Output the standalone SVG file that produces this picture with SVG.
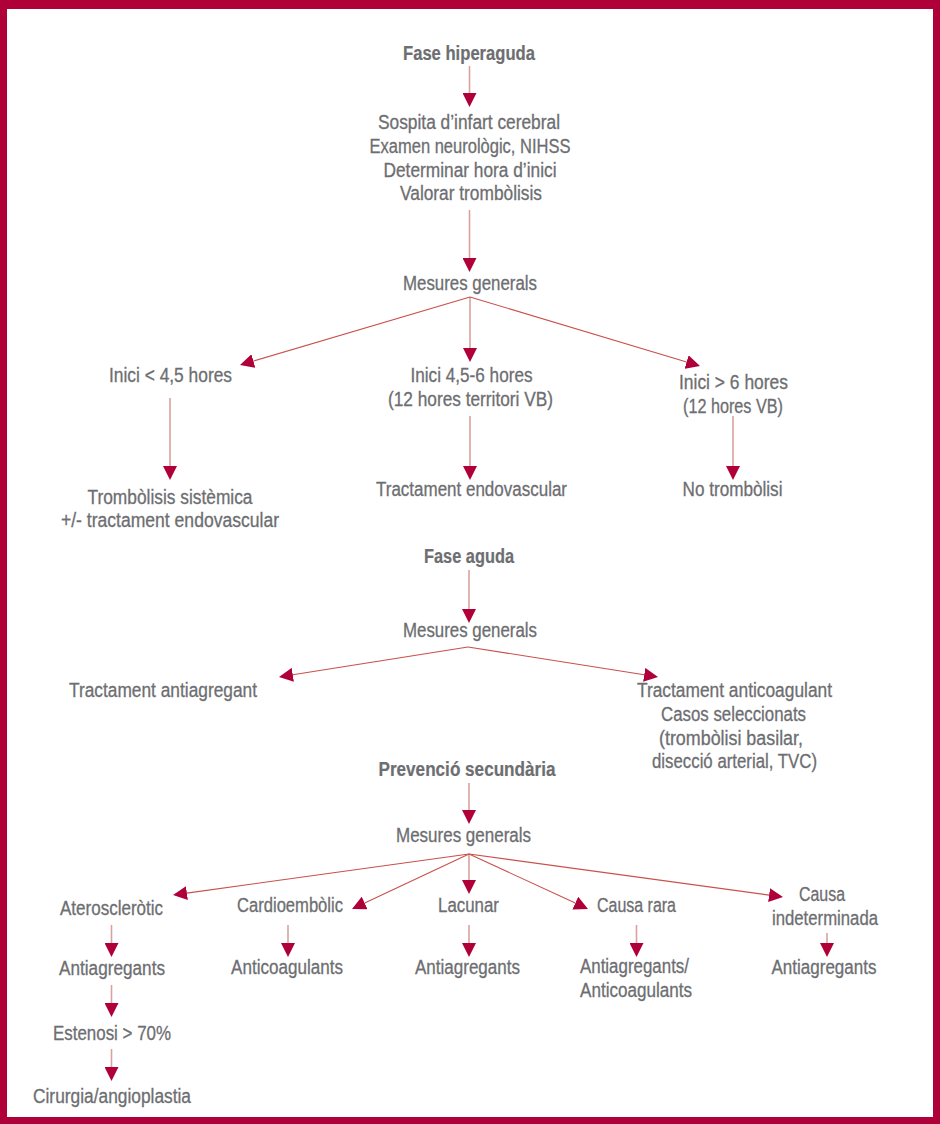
<svg xmlns="http://www.w3.org/2000/svg" width="940" height="1124" viewBox="0 0 940 1124">
<style>
text{font-family:"Liberation Sans Narrow","Liberation Sans",Arial,sans-serif;font-size:20px;fill:#6d6e71;stroke:#6d6e71;stroke-width:0.3;text-anchor:middle}
.b{font-weight:bold;stroke-width:0.2}
.s{text-anchor:start}
.v{stroke:#d9a29e;stroke-width:1.6;fill:none}
.d{stroke:#c9504c;stroke-width:1.1;fill:none}
</style>
<defs>
<marker id="ah" viewBox="0 0 14 14" refX="0" refY="7" markerWidth="14" markerHeight="14" markerUnits="userSpaceOnUse" orient="auto">
<path d="M0,0 L14,7 L0,14 Z" fill="#af003a"/>
</marker>
</defs>
<rect x="0" y="0" width="940" height="1124" fill="#af003a"/>
<rect x="7" y="9" width="926" height="1108" fill="#ffffff"/>

<g id="connectors">
<line class="v" x1="469.5" y1="66" x2="469.5" y2="93" marker-end="url(#ah)"/>
<line class="v" x1="469.5" y1="210" x2="469.5" y2="258" marker-end="url(#ah)"/>
<line class="v" x1="470" y1="297" x2="470" y2="348" marker-end="url(#ah)"/>
<line class="d" x1="470" y1="297" x2="253.4" y2="361" marker-end="url(#ah)"/>
<line class="d" x1="470" y1="297" x2="686.6" y2="362" marker-end="url(#ah)"/>
<line class="v" x1="170" y1="398" x2="170" y2="466" marker-end="url(#ah)"/>
<line class="v" x1="470" y1="416" x2="470" y2="466" marker-end="url(#ah)"/>
<line class="v" x1="733" y1="416" x2="733" y2="466" marker-end="url(#ah)"/>
<line class="v" x1="469" y1="570" x2="469" y2="609" marker-end="url(#ah)"/>
<line class="d" x1="468" y1="647" x2="292.8" y2="674.8" marker-end="url(#ah)"/>
<line class="d" x1="468" y1="647" x2="644.2" y2="674.8" marker-end="url(#ah)"/>
<line class="v" x1="469" y1="783" x2="469" y2="810" marker-end="url(#ah)"/>
<line class="v" x1="469" y1="854" x2="469" y2="880" marker-end="url(#ah)"/>
<line class="d" x1="469" y1="854" x2="186.9" y2="893.1" marker-end="url(#ah)"/>
<line class="d" x1="469" y1="854" x2="364.7" y2="903" marker-end="url(#ah)"/>
<line class="d" x1="469" y1="854" x2="575.3" y2="903.1" marker-end="url(#ah)"/>
<line class="d" x1="469" y1="854" x2="769.1" y2="895.1" marker-end="url(#ah)"/>
<line class="v" x1="111.5" y1="925" x2="111.5" y2="943" marker-end="url(#ah)"/>
<line class="v" x1="288" y1="925" x2="288" y2="943" marker-end="url(#ah)"/>
<line class="v" x1="469" y1="925" x2="469" y2="943" marker-end="url(#ah)"/>
<line class="v" x1="636.5" y1="925" x2="636.5" y2="943" marker-end="url(#ah)"/>
<line class="v" x1="827" y1="933" x2="827" y2="943" marker-end="url(#ah)"/>
<line class="v" x1="111.5" y1="985" x2="111.5" y2="1003" marker-end="url(#ah)"/>
<line class="v" x1="111.5" y1="1049" x2="111.5" y2="1067" marker-end="url(#ah)"/>
</g>

<g id="n-fase-hiperaguda"><text class="b" x="469" y="60" textLength="132" lengthAdjust="spacingAndGlyphs">Fase hiperaguda</text></g>
<g id="n-sospita">
<text x="469" y="129" textLength="182" lengthAdjust="spacingAndGlyphs">Sospita d’infart cerebral</text>
<text x="470" y="153" textLength="201" lengthAdjust="spacingAndGlyphs">Examen neurològic, NIHSS</text>
<text x="470" y="177" textLength="173" lengthAdjust="spacingAndGlyphs">Determinar hora d’inici</text>
<text x="471" y="200" textLength="142" lengthAdjust="spacingAndGlyphs">Valorar trombòlisis</text>
</g>
<g id="n-mesures-1"><text x="470" y="290" textLength="134" lengthAdjust="spacingAndGlyphs">Mesures generals</text></g>
<g id="n-inici-45"><text x="170.5" y="382" textLength="123" lengthAdjust="spacingAndGlyphs">Inici &lt; 4,5 hores</text></g>
<g id="n-inici-456">
<text x="471.5" y="382" textLength="122" lengthAdjust="spacingAndGlyphs">Inici 4,5-6 hores</text>
<text x="470.5" y="406" textLength="165" lengthAdjust="spacingAndGlyphs">(12 hores territori VB)</text>
</g>
<g id="n-inici-6">
<text x="733.5" y="389" textLength="109" lengthAdjust="spacingAndGlyphs">Inici &gt; 6 hores</text>
<text x="733" y="413" textLength="100" lengthAdjust="spacingAndGlyphs">(12 hores VB)</text>
</g>
<g id="n-tromb-sist">
<text x="170" y="504" textLength="165" lengthAdjust="spacingAndGlyphs">Trombòlisis sistèmica</text>
<text x="170" y="527" textLength="218" lengthAdjust="spacingAndGlyphs">+/- tractament endovascular</text>
</g>
<g id="n-endovasc"><text x="471.5" y="496" textLength="191" lengthAdjust="spacingAndGlyphs">Tractament endovascular</text></g>
<g id="n-no-tromb"><text x="732.5" y="496" textLength="100" lengthAdjust="spacingAndGlyphs">No trombòlisi</text></g>

<g id="n-fase-aguda"><text class="b" x="469" y="563" textLength="90" lengthAdjust="spacingAndGlyphs">Fase aguda</text></g>
<g id="n-mesures-2"><text x="470" y="637" textLength="134" lengthAdjust="spacingAndGlyphs">Mesures generals</text></g>
<g id="n-antiagregant"><text x="163" y="697" textLength="188" lengthAdjust="spacingAndGlyphs">Tractament antiagregant</text></g>
<g id="n-anticoagulant">
<text x="734.5" y="697" textLength="195" lengthAdjust="spacingAndGlyphs">Tractament anticoagulant</text>
<text x="733.5" y="721" textLength="145" lengthAdjust="spacingAndGlyphs">Casos seleccionats</text>
<text x="731" y="745" textLength="144" lengthAdjust="spacingAndGlyphs">(trombòlisi basilar,</text>
<text x="734.5" y="768" textLength="165" lengthAdjust="spacingAndGlyphs">disecció arterial, TVC)</text>
</g>

<g id="n-prevencio"><text class="b" x="467" y="776" textLength="177" lengthAdjust="spacingAndGlyphs">Prevenció secundària</text></g>
<g id="n-mesures-3"><text x="463.5" y="842" textLength="135" lengthAdjust="spacingAndGlyphs">Mesures generals</text></g>
<g id="n-ateroscl"><text x="111.5" y="915" textLength="103" lengthAdjust="spacingAndGlyphs">Ateroscleròtic</text></g>
<g id="n-cardio"><text x="290" y="912" textLength="106" lengthAdjust="spacingAndGlyphs">Cardioembòlic</text></g>
<g id="n-lacunar"><text x="468.5" y="912" textLength="61" lengthAdjust="spacingAndGlyphs">Lacunar</text></g>
<g id="n-causa-rara"><text x="636.5" y="912" textLength="79" lengthAdjust="spacingAndGlyphs">Causa rara</text></g>
<g id="n-causa-indet">
<text x="822" y="901" textLength="46" lengthAdjust="spacingAndGlyphs">Causa</text>
<text x="825" y="925" textLength="106" lengthAdjust="spacingAndGlyphs">indeterminada</text>
</g>
<g id="n-antiagr-1"><text x="112" y="975" textLength="106" lengthAdjust="spacingAndGlyphs">Antiagregants</text></g>
<g id="n-anticoag-1"><text x="287" y="974" textLength="112" lengthAdjust="spacingAndGlyphs">Anticoagulants</text></g>
<g id="n-antiagr-2"><text x="467.5" y="974" textLength="105" lengthAdjust="spacingAndGlyphs">Antiagregants</text></g>
<g id="n-antiagr-anticoag">
<text class="s" x="580" y="973" textLength="109" lengthAdjust="spacingAndGlyphs">Antiagregants/</text>
<text class="s" x="580" y="997" textLength="112" lengthAdjust="spacingAndGlyphs">Anticoagulants</text>
</g>
<g id="n-antiagr-3"><text x="824" y="974" textLength="105" lengthAdjust="spacingAndGlyphs">Antiagregants</text></g>
<g id="n-estenosi"><text x="112" y="1040" textLength="118" lengthAdjust="spacingAndGlyphs">Estenosi &gt; 70%</text></g>
<g id="n-cirurgia"><text x="112" y="1103" textLength="158" lengthAdjust="spacingAndGlyphs">Cirurgia/angioplastia</text></g>
</svg>
